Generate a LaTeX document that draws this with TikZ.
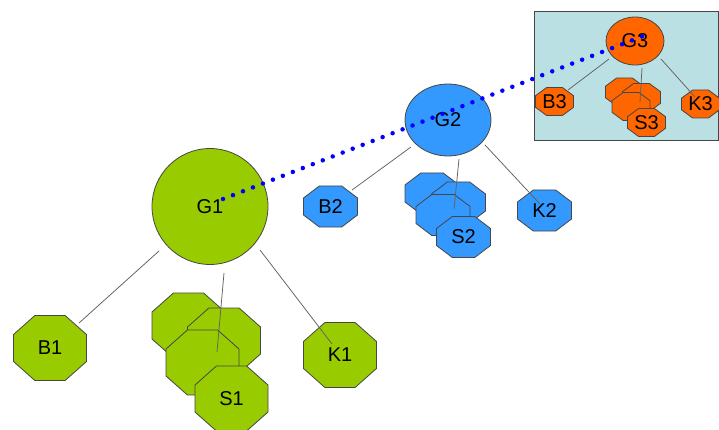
\documentclass[tikz,border=0pt]{standalone}
\usepackage{fontspec}
\setmainfont{Liberation Sans}
\usetikzlibrary{shapes.geometric,calc}
\definecolor{ggreen}{RGB}{153,204,0}
\definecolor{gblue}{RGB}{51,153,255}
\definecolor{gorange}{RGB}{255,102,0}
\definecolor{boxfill}{RGB}{187,224,227}
\definecolor{edgegray}{RGB}{70,70,70}
% #1 name, #2 x, #3 y, #4 width, #5 height, #6 x-chamfer, #7 y-chamfer, #8 fill, #9 text
\newcommand\octoshape[9]{%
  \filldraw[octline, fill=#8]
    ({#2-#4/2+#6},{#3-#5/2}) -- ({#2+#4/2-#6},{#3-#5/2}) --
    ({#2+#4/2},{#3-#5/2+#7}) -- ({#2+#4/2},{#3+#5/2-#7}) --
    ({#2+#4/2-#6},{#3+#5/2}) -- ({#2-#4/2+#6},{#3+#5/2}) --
    ({#2-#4/2},{#3+#5/2-#7}) -- ({#2-#4/2},{#3-#5/2+#7}) -- cycle;
  \node[lbl, minimum width=#4pt, minimum height=#5pt] (#1) at (#2,#3) {#9};}
\newcommand\bigoct[5]{\octoshape{#1}{#2}{#3}{73}{65}{21.4}{19}{#4}{#5}}
\newcommand\midoct[5]{\octoshape{#1}{#2}{#3}{54}{41}{15.8}{12}{#4}{#5}}
\newcommand\smalloct[5]{\octoshape{#1}{#2}{#3}{38}{28}{11.1}{8.2}{#4}{#5}}
\begin{document}
\begin{tikzpicture}[x=1pt,y=-1pt,
  lbl/.style={inner sep=0pt, font=\fontsize{20}{23}\selectfont},
  shp/.style={lbl, draw=edgegray, line width=0.8pt},
  octline/.style={draw=edgegray, line width=0.8pt},
  conn/.style={draw=black!62, line width=0.75pt},
  link/.style={draw=blue, line width=4.5pt, line cap=round,
    dash pattern=on 0pt off 10.7pt},
  panel/.style={draw=edgegray, line width=1pt, fill=boxfill}
]
\useasboundingbox (0,0) rectangle (719,430);
\fill[white] (0,0) rectangle (719,430);

% panel for level 3
\path[panel] (534.5,11.5) rectangle (718.5,140.5);

% level 1 (green)
\node[shp, circle, fill=ggreen, minimum size=116pt] (G1) at (210,206.5) {G1};
\bigoct{B1}{50}{348}{ggreen}{B1}
\bigoct{K1}{340}{355}{ggreen}{K1}
\bigoct{s1a}{188.5}{325.5}{ggreen}{}
\bigoct{s1b}{224}{340.5}{ggreen}{}
\bigoct{s1c}{202.5}{362.5}{ggreen}{}
\bigoct{S1}{231.5}{398.5}{ggreen}{S1}

% level 2 (blue)
\node[shp, ellipse, fill=gblue, minimum width=86pt, minimum height=72pt] (G2) at (448,120) {G2};
\midoct{B2}{330.5}{206.5}{gblue}{B2}
\midoct{K2}{544.5}{210.5}{gblue}{K2}
\midoct{s2a}{432}{193.5}{gblue}{}
\midoct{s2b}{458.5}{202.5}{gblue}{}
\midoct{s2c}{443}{215}{gblue}{}
\midoct{S2}{463.5}{237}{gblue}{S2}

% level 3 (orange)
\node[shp, ellipse, fill=gorange, minimum width=58pt, minimum height=48pt] (G3) at (635,41) {G3};
\smalloct{B3}{554.5}{101.5}{gorange}{B3}
\smalloct{K3}{700.5}{104}{gorange}{K3}
\smalloct{s3a}{624.5}{92}{gorange}{}
\smalloct{s3b}{641.5}{97.5}{gorange}{}
\smalloct{s3c}{631}{106.5}{gorange}{}
\smalloct{S3}{646.5}{122.5}{gorange}{S3}

% connectors
\draw[conn] ($(G1)+(-51,44.5)$) -- ($(B1)+(29,-25)$);
\draw[conn] ($(G1)+(14,66.5)$) -- ($(S1)+(-14.5,-46.5)$);
\draw[conn] ($(G1)+(50,43.5)$) -- ($(K1)+(-8,-11)$);

\draw[conn] ($(G2)+(-37,27)$) -- ($(B2)+(21.5,-16.5)$);
\draw[conn] ($(G2)+(11,39)$) -- ($(S2)+(-9.5,-28)$);
\draw[conn] ($(G2)+(37,25)$) -- ($(K2)+(-4.5,-6.5)$);

\draw[conn] ($(G3)+(-26,18)$) -- ($(B3)+(13.5,-11.5)$);
\draw[conn] ($(G3)+(7,27)$) -- ($(S3)+(-6.5,-20.5)$);
\draw[conn] ($(G3)+(26,18)$) -- ($(K3)+(-5.5,-7)$);

% dotted link
\draw[link] ($(G1)+(13,-7.5)$) -- ($(G3)+(16,-8)$);
\end{tikzpicture}
\end{document}
